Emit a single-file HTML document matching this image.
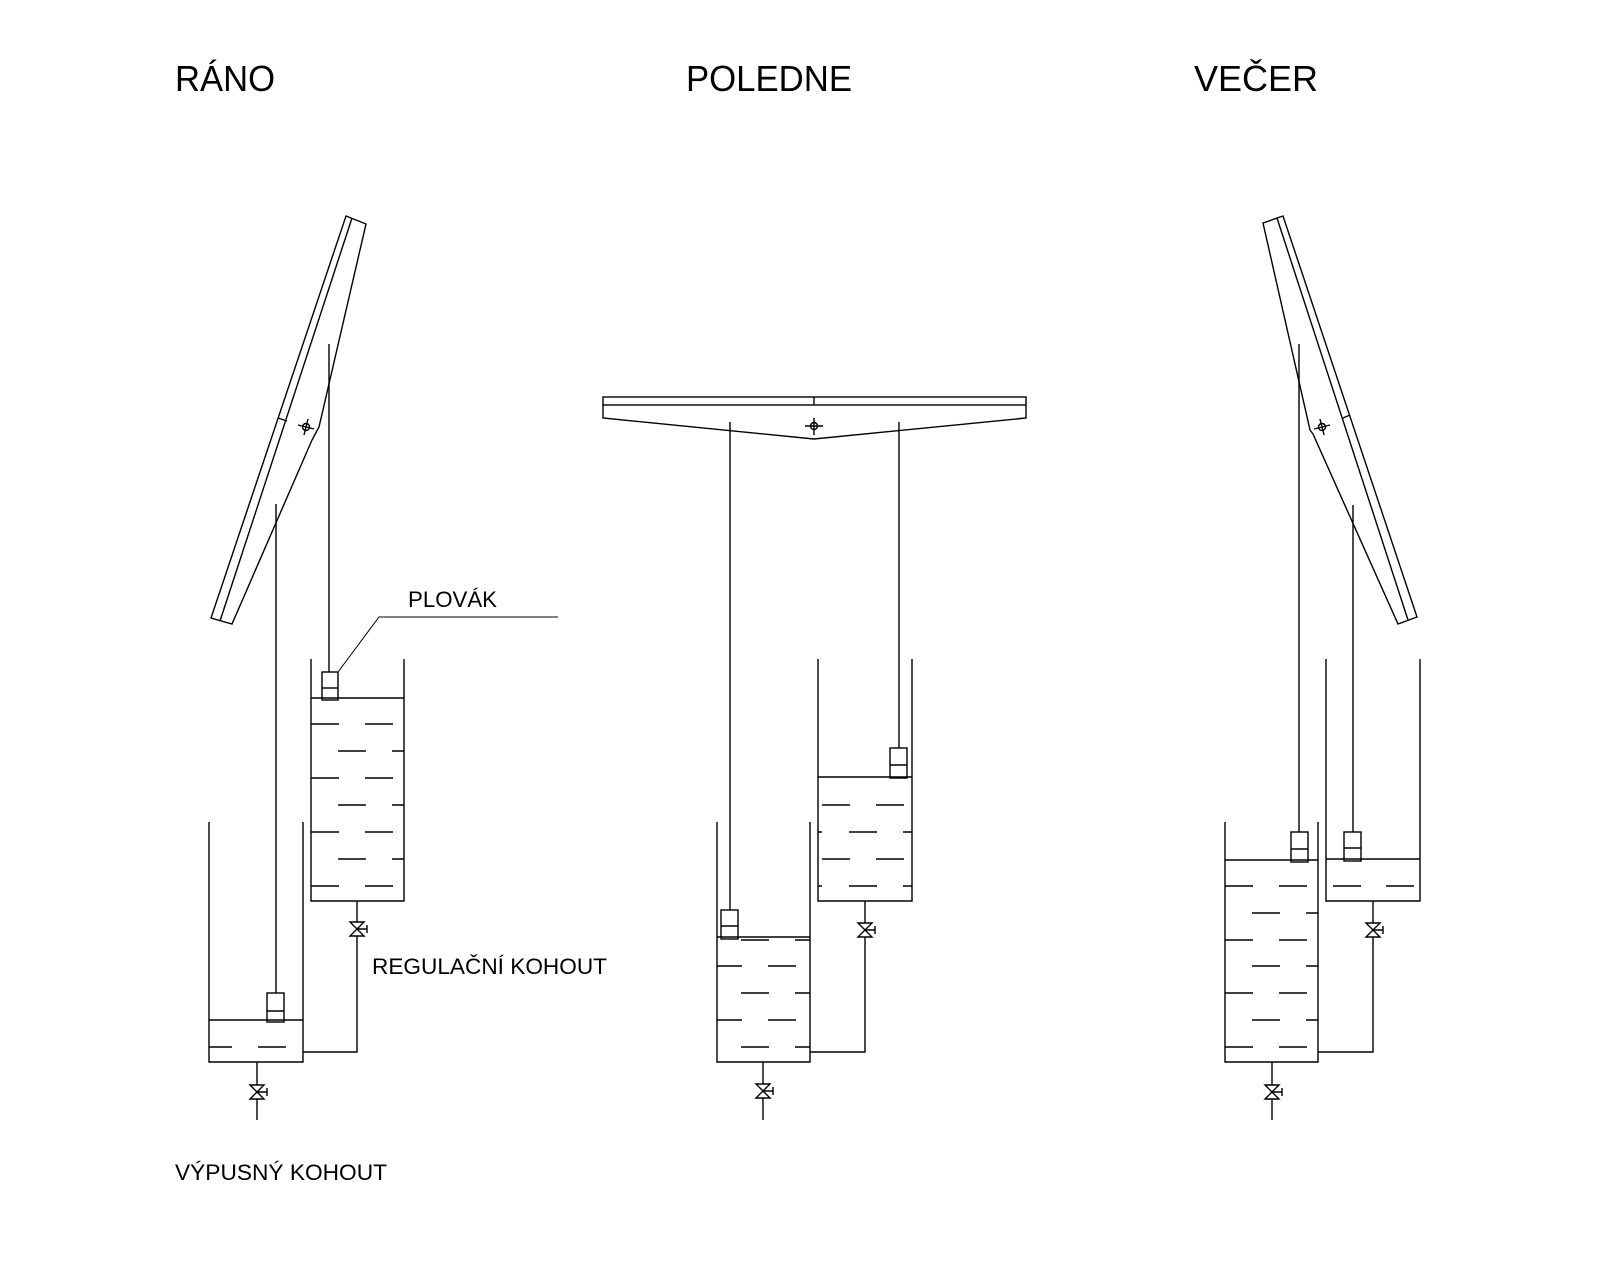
<!DOCTYPE html>
<html><head><meta charset="utf-8"><style>
html,body{margin:0;padding:0;background:#fff;}
svg{display:block}
text{font-family:"Liberation Sans",sans-serif;fill:#000}
</style></head><body>
<svg width="1600" height="1280" viewBox="0 0 1600 1280" xmlns="http://www.w3.org/2000/svg">
<rect width="1600" height="1280" fill="#fff"/>
<g font-size="36">
<text x="175" y="91" textLength="100" lengthAdjust="spacingAndGlyphs">RÁNO</text>
<text x="686" y="91" textLength="166" lengthAdjust="spacingAndGlyphs">POLEDNE</text>
<text x="1194" y="91" textLength="124" lengthAdjust="spacingAndGlyphs">VEČER</text>
</g>
<g font-size="22">
<text x="408" y="607" textLength="89" lengthAdjust="spacingAndGlyphs">PLOVÁK</text>
<text x="372" y="974" textLength="235" lengthAdjust="spacingAndGlyphs">REGULAČNÍ KOHOUT</text>
<text x="175" y="1180" textLength="212" lengthAdjust="spacingAndGlyphs">VÝPUSNÝ KOHOUT</text>
</g>
<g fill="none" stroke="#000" stroke-width="1.4">
<polygon points="346,216 366,224 319,427 312,440 232,624 211,618"/>
<line x1="352" y1="218" x2="220" y2="621"/>
<line x1="278" y1="418" x2="287" y2="421"/>
<circle cx="306" cy="427" r="3.5"/>
<line x1="298" y1="425" x2="314" y2="429"/><line x1="308" y1="419" x2="304" y2="435"/>
<line x1="276" y1="504" x2="276" y2="993"/>
<line x1="329" y1="344" x2="329" y2="672"/>
<polyline points="558,617 379,617 338,672" stroke-width="1"/>
<polyline points="311,659 311,901 404,901 404,659"/>
<line x1="311" y1="698" x2="404" y2="698"/>
<rect x="322" y="672" width="16" height="28"/><line x1="322" y1="688" x2="338" y2="688"/>
<path d="M311 724h28M365 724h28M338 751h28M392 751h12M311 778h28M365 778h28M338 805h28M392 805h12M311 832h28M365 832h28M338 859h28M392 859h12M311 886h28M365 886h28"/>
<polyline points="209,822 209,1062 303,1062 303,822"/>
<line x1="209" y1="1020" x2="303" y2="1020"/>
<rect x="267" y="993" width="17" height="29"/><line x1="267" y1="1011" x2="284" y2="1011"/>
<path d="M209 1047h23M258 1047h28"/>
<polyline points="357,901 357,922"/><polyline points="357,936 357,1052 303,1052"/>
<polygon points="350,922 364,922 350,936 364,936"/><path d="M357 929h10M367 925v8"/>
<line x1="257" y1="1062" x2="257" y2="1085"/><line x1="257" y1="1099" x2="257" y2="1120"/>
<polygon points="250,1085 264,1085 250,1099 264,1099"/><path d="M257 1092h10M267 1088v8"/>

<rect x="603" y="397" width="423" height="8"/>
<line x1="814" y1="397" x2="814" y2="405"/>
<polyline points="603,405 603,418 814,439 1026,418 1026,405"/>
<circle cx="814" cy="426" r="3.5"/>
<path d="M805 426h18M814 418v17"/>
<line x1="730" y1="422" x2="730" y2="910"/>
<line x1="899" y1="422" x2="899" y2="748"/>
<polyline points="818,659 818,901 912,901 912,659"/>
<line x1="818" y1="777" x2="912" y2="777"/>
<rect x="890" y="748" width="17" height="30"/><line x1="890" y1="765" x2="907" y2="765"/>
<path d="M822 805h28M876 805h28M818 832h4M849 832h28M903 832h9M822 859h28M876 859h28M818 886h4M849 886h28M903 886h9"/>
<polyline points="717,822 717,1062 810,1062 810,822"/>
<line x1="717" y1="937" x2="810" y2="937"/>
<rect x="721" y="910" width="17" height="29"/><line x1="721" y1="926" x2="738" y2="926"/>
<path d="M741 940h28M795 940h15M717 966h25M768 966h28M741 993h28M795 993h15M717 1020h25M768 1020h28M741 1047h28M795 1047h15"/>
<line x1="865" y1="901" x2="865" y2="923"/><polyline points="865,937 865,1052 810,1052"/>
<polygon points="858,923 872,923 858,937 872,937"/><path d="M865 930h10M875 926v8"/>
<line x1="763" y1="1062" x2="763" y2="1084"/><line x1="763" y1="1098" x2="763" y2="1120"/>
<polygon points="756,1084 770,1084 756,1098 770,1098"/><path d="M763 1091h10M773 1087v8"/>

<polygon points="1263,223 1283,216 1417,617 1398,624 1313,434 1310,430"/>
<line x1="1277" y1="218" x2="1408" y2="620"/>
<line x1="1343" y1="418" x2="1350" y2="415"/>
<circle cx="1322" cy="427" r="3.5"/>
<line x1="1314" y1="429" x2="1330" y2="425"/><line x1="1320" y1="419" x2="1324" y2="435"/>
<line x1="1299" y1="344" x2="1299" y2="832"/>
<line x1="1353" y1="505" x2="1353" y2="832"/>
<polyline points="1225,822 1225,1062 1318,1062 1318,822"/>
<line x1="1225" y1="860" x2="1318" y2="860"/>
<rect x="1291" y="832" width="17" height="30"/><line x1="1291" y1="849" x2="1308" y2="849"/>
<path d="M1225 886h28M1279 886h28M1252 913h28M1306 913h12M1225 940h28M1279 940h28M1252 966h28M1306 966h12M1225 993h28M1279 993h28M1252 1020h28M1306 1020h12M1225 1047h28M1279 1047h28"/>
<polyline points="1326,659 1326,901 1420,901 1420,659"/>
<line x1="1326" y1="859" x2="1420" y2="859"/>
<rect x="1344" y="832" width="17" height="29"/><line x1="1344" y1="848" x2="1361" y2="848"/>
<path d="M1333 886h28M1386 886h28"/>
<line x1="1373" y1="901" x2="1373" y2="923"/><polyline points="1373,937 1373,1052 1318,1052"/>
<polygon points="1366,923 1380,923 1366,937 1380,937"/><path d="M1373 930h10M1383 926v8"/>
<line x1="1272" y1="1062" x2="1272" y2="1085"/><line x1="1272" y1="1099" x2="1272" y2="1120"/>
<polygon points="1265,1085 1279,1085 1265,1099 1279,1099"/><path d="M1272 1092h10M1282 1088v8"/>
</g>
</svg>
</body></html>
